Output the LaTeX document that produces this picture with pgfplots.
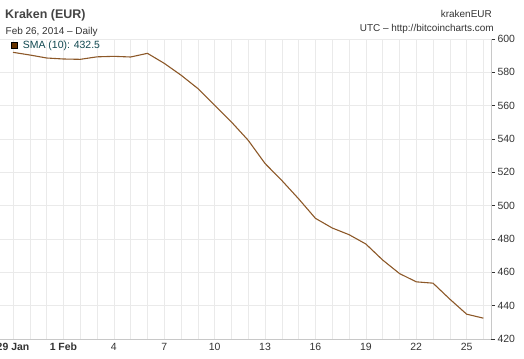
\documentclass[border=0pt]{standalone}
\usepackage{pgfplots}
\pgfplotsset{compat=1.18}
\usepackage{fontspec}
\setmainfont{Liberation Sans}
\definecolor{brn}{RGB}{140,88,40}
\definecolor{sq}{RGB}{102,51,0}
\definecolor{gridc}{RGB}{234,234,234}
\definecolor{axc}{RGB}{200,200,200}
\definecolor{txt}{RGB}{51,51,51}
\definecolor{ttl}{RGB}{68,68,68}
\definecolor{teal}{RGB}{16,72,80}
\begin{document}
\begin{tikzpicture}[x=1bp,y=1bp]
\useasboundingbox (0,0) rectangle (524,358);
\begin{axis}[
  at={(0bp,19bp)}, anchor=south west,
  scale only axis, width=491bp, height=300bp,
  xmin=-0.775, xmax=28.45, ymin=420, ymax=600,
  axis x line*=bottom, axis y line*=right,
  axis line style={axc, line width=0.8pt},
  xtick={0,3,...,27},
  xticklabels={\textbf{29 Jan},\textbf{1 Feb},\textnormal{4},\textnormal{7},\textnormal{10},\textnormal{13},\textnormal{16},\textnormal{19},\textnormal{22},\textnormal{25}},
  minor xtick={0,...,28},
  xmajorgrids, xminorgrids, ymajorgrids,
  grid style={gridc, line width=0.6pt},
  minor grid style={gridc, line width=0.6pt},
  x tick style={draw=none},
  minor x tick style={draw=none},
  ytick={420,440,...,600},
  ytick align=outside,
  y tick style={txt, line width=0.6pt},
  major tick length=4bp,
  yticklabel={\pgfmathprintnumber[assume math mode=true]{\tick}},
  yticklabel style={anchor=west, xshift=-1bp},
  tick label style={font=\fontsize{10.5}{12}\selectfont, text=txt},
  xticklabel style={anchor=base, inner sep=0pt, yshift=-11.5bp},
  clip=false,
]
\addplot[brn, line width=1.1pt] coordinates {
(0,592.0) (1,590.4) (2,588.6) (3,588.0) (4,587.8) (5,589.3) (6,589.6)
(7,589.2) (8,591.4) (9,585.4) (10,578.3) (11,570.3) (12,560.3) (13,550.2)
(14,539.2) (15,525.3) (16,515.1) (17,504.1) (18,492.4) (19,486.6)
(20,482.6) (21,477.0) (22,467.4) (23,459.3) (24,454.3) (25,453.5)
(26,443.9) (27,434.9) (28,432.5)
};
\end{axis}
\node[anchor=base west, inner sep=0, text=ttl, font=\fontsize{12.5}{14}\selectfont\bfseries] at (5,339.7) {Kraken (EUR)};
\node[anchor=base west, inner sep=0, text=txt, font=\fontsize{10}{12}\selectfont] at (5.5,323.7) {Feb 26, 2014 -- Daily};
\node[anchor=base east, inner sep=0, text=txt, font=\fontsize{10}{12}\selectfont] at (492,340.7) {krakenEUR};
\node[anchor=base east, inner sep=0, text=txt, font=\fontsize{10}{12}\selectfont] at (494,326.7) {UTC -- http://bitcoincharts.com};
\fill[sq, draw=black, line width=0.5pt] (11,309.7) rectangle (17,315.7);
\node[anchor=base west, inner sep=0, text=teal, font=\fontsize{10.5}{12}\selectfont] at (22.7,309.3) {SMA (10): 432.5};
\end{tikzpicture}
\end{document}
